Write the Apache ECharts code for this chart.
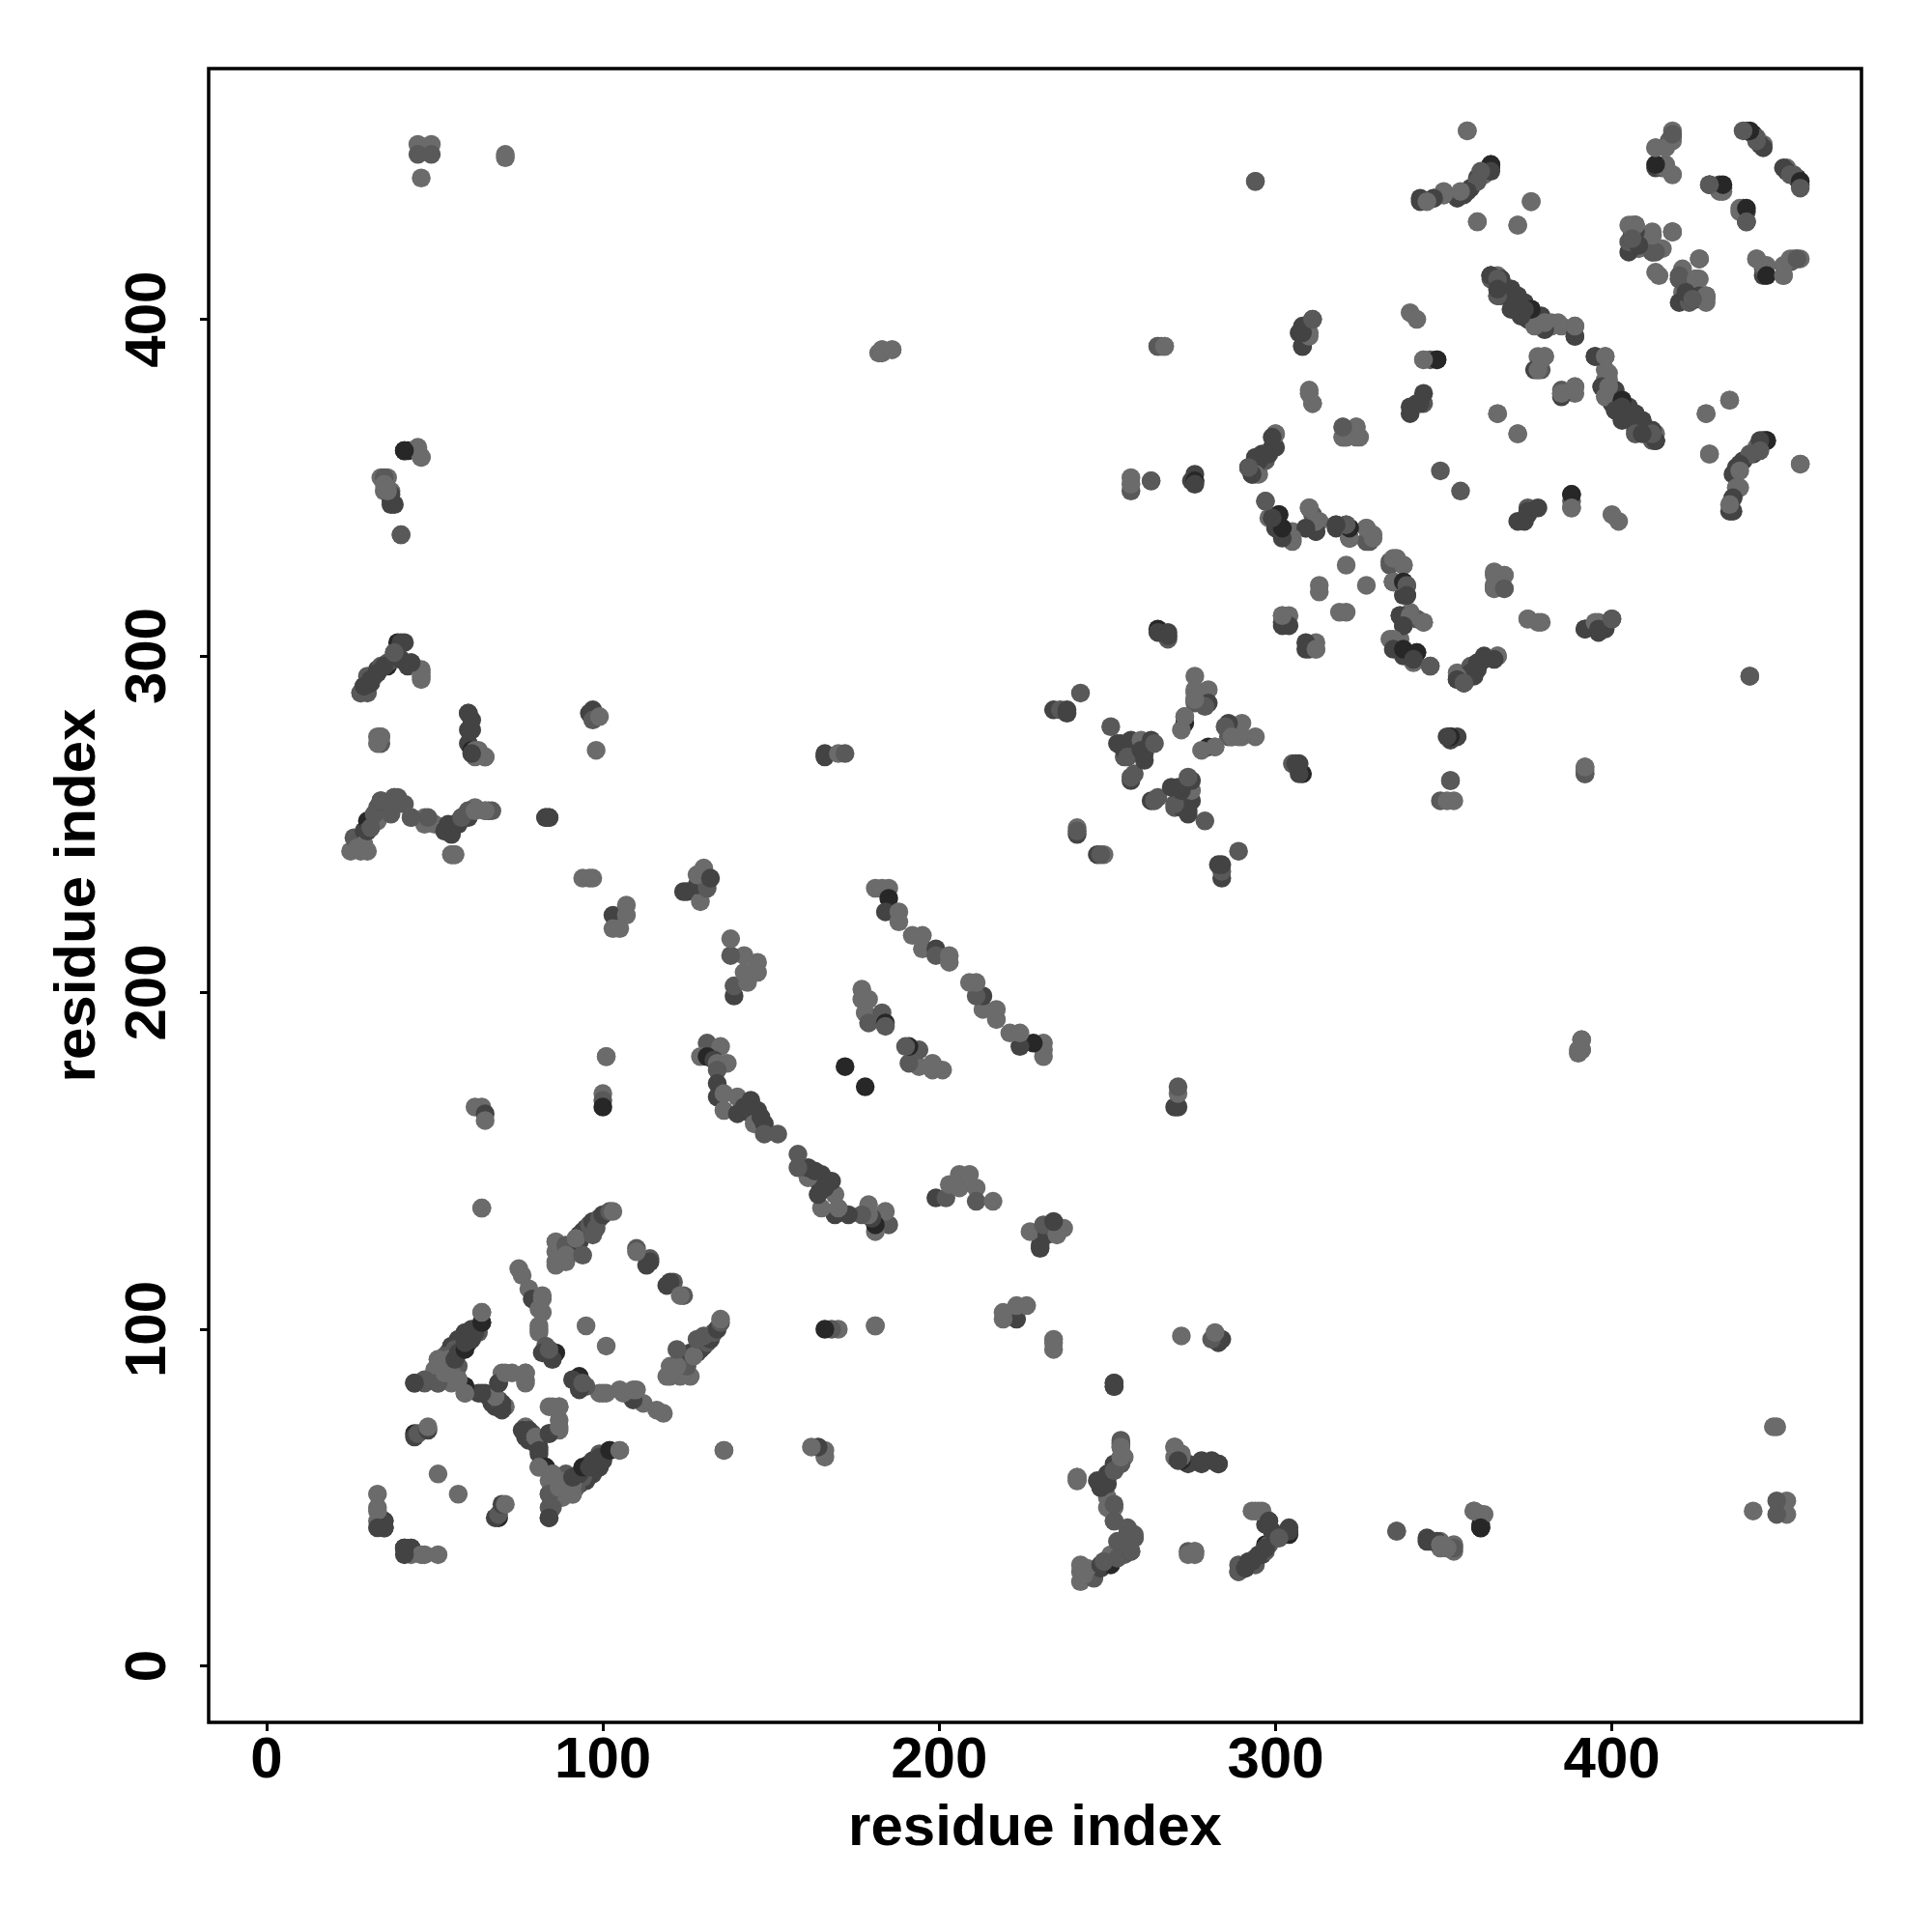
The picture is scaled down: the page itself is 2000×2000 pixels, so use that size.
<!DOCTYPE html>
<html>
<head>
<meta charset="utf-8">
<style>html,body{margin:0;padding:0;background:#fff}#c{width:2000px;height:2000px}</style>
<script src="https://cdn.jsdelivr.net/npm/echarts@6/dist/echarts.min.js"></script>
</head>
<body>
<div id="c"></div>
<script>
// Each contact: [residue i, residue j, weight]  (weight 1 = faint ... 4 = strongest)
// The map is symmetric, so every contact is also drawn as (j, i).
const tickValues = [0, 100, 200, 300, 400];
const axisTitle = 'residue index';

const helixTop = [[45,452,1],[49,452,1],[45,449,2],[49,449,2],[46,442,1],[71,449,1],[71,448,1]];
const group40s = [[41,361,4],[42,361,4],[45,361,1],[46,359,2],[37,345,3],[38,345,3],[35,349,1],[37,349,1],[34,353,1],[36,353,1],[40,336,1],[41,361,4],[45,361,1]];
const chain290 = [[28,289,2],[30,289,2],[29,291,4],[31,292,3],[30,294,2],[32,294,2],[33,296,3],[34,297,2],[36,297,4],[36,298,2],[38,301,2],[39,304,4],[40,304,3],[41,304,3],[40,299,3],[42,297,3],[43,298,3],[46,296,1],[46,294,1]];
const group276 = [[33,276,1],[34,276,1],[34,274,2]];
const group280 = [[60,283,3],[61,281,3],[60,278,3],[60,274,3],[61,272,4],[63,272,1],[62,270,1],[65,270,1]];
const group98 = [[96,283,3],[97,284,3],[97,281,2],[99,282,1],[98,272,1]];
const chain250 = [[25,242,1],[28,242,1],[30,242,1],[27,245,1],[26,246,2],[29,248,3],[31,249,3],[30,251,4],[33,251,1],[32,253,2],[33,255,2],[34,257,3],[37,257,3],[38,258,3],[39,258,2],[41,256,2],[43,252,1],[47,252,1],[47,250,1],[50,250,1],[53,248,3],[55,247,3],[54,249,3],[57,250,3],[58,252,2],[60,252,3],[60,254,2],[62,255,1],[65,254,1],[66,254,3],[67,254,2],[55,241,2],[56,241,2],[83,252,3],[84,252,3]];
const group100 = [[94,234,1],[96,234,1],[97,234,1],[103,223,3],[107,226,1],[107,223,1],[103,219,1],[105,219,1]];
const group130 = [[124,230,3],[125,230,3],[129,227,1],[128,232,3],[130,234,2],[131,231,2],[128,235,1],[130,237,1],[132,234,3]];
const group140 = [[139,199,3],[139,202,2],[143,203,1],[142,206,1],[146,206,1],[146,209,1],[142,211,1],[138,211,2],[138,216,1]];
const hairpin150 = [[131,185,2],[135,184,1],[129,181,1],[131,181,4],[133,180,3],[134,179,1],[137,179,1],[134,177,2],[134,173,3],[134,169,3],[136,170,1],[136,165,1],[140,169,1],[140,164,3],[142,166,3],[144,168,3],[144,164,3],[146,165,3],[145,161,1],[148,161,3],[147,163,3],[148,158,2],[152,158,2]];
const hairpinCross = [[101,181,1],[100,170,1],[100,168,2],[100,166,4],[62,166,1],[64,166,1],[65,164,3],[65,162,1],[64,136,1],[166,271,3],[166,270,3],[170,271,1],[172,271,2],[182,390,1],[183,390,1],[186,391,1],[183,391,1]];
const strand185 = [[181,231,1],[183,231,1],[185,231,1],[185,228,4],[184,224,3],[188,224,1],[188,221,1],[192,217,1],[195,217,1],[195,213,1],[199,213,3],[199,211,2],[203,211,1],[203,209,1]];
const strand177 = [[177,201,1],[177,198,1],[179,198,1],[178,194,1],[179,191,2],[183,194,2],[184,191,4],[184,190,2],[172,178,4]];
const blockAb = [[64,102,4],[64,105,1],[59,99,3],[61,100,3],[60,98,3],[63,99,2],[59,96,4],[57,97,3],[58,94,3],[60,96,3],[55,95,3],[54,93,3],[56,94,2],[53,92,2],[52,90,2],[51,91,1],[54,91,1],[56,91,1],[57,89,2],[50,88,1]];
const blockAc = [[44,84,3],[47,84,2],[51,84,3],[55,87,1],[53,86,1],[57,85,2],[59,81,1],[59,83,4],[63,81,3],[65,81,3],[66,80,3],[67,78,3],[68,77,3],[69,79,2],[71,77,1],[69,84,3],[70,87,1],[73,87,1],[77,87,1],[77,84,1]];
const blockBb = [[75,118,1],[76,116,1],[78,112,1],[79,109,3],[82,110,1],[81,106,1],[81,100,1],[82,105,1],[82,109,1],[81,99,1],[81,101,1],[83,95,2],[82,93,3],[86,93,4],[85,91,3],[84,94,2]];
const blockCa = [[86,126,1],[86,123,1],[86,120,1],[89,120,1],[89,125,2],[92,123,2],[93,126,3],[93,128,3],[94,129,3],[95,130,3],[96,131,2],[97,132,3],[98,130,2],[99,133,2],[100,134,3],[102,135,2],[103,135,1],[86,119,1],[89,122,1],[92,127,1],[94,122,2],[97,128,2]];
const blockD = [[110,124,2],[113,119,3],[114,121,2],[114,120,3],[110,123,1]];
const blockE = [[76,70,3],[78,70,3],[80,68,1],[81,64,3],[83,59,4],[81,59,1],[84,55,1],[84,51,2],[85,57,1],[85,47,2],[84,44,3],[87,53,1],[91,51,1],[91,56,3],[93,57,3],[94,59,4],[96,59,3],[97,61,3],[99,62,3],[102,64,4],[105,64,1],[84,69,3],[87,71,1],[85,77,1],[87,77,1]];
const group44 = [[44,69,4],[44,68,3],[45,69,2],[48,70,3],[48,71,1],[51,57,1],[95,101,1]];
const group33 = [[33,51,1],[33,47,1],[33,43,1],[35,43,3],[35,41,4],[35,41,3],[35,43,3],[33,46,1],[41,35,3],[33,41,3]];
const lowerRight = [[46,359,1],[45,362,1],[41,361,4],[40,336,2],[37,346,3],[37,348,3],[36,349,1],[35,353,2],[35,351,1]];
const group440 = [[294,441,1]];
const edge100 = [[83,252,3],[84,252,3],[64,136,1],[101,181,1]];
const chain243 = [[55,241,1],[56,241,1],[53,248,3],[54,250,3],[56,250,3],[58,252,2],[60,254,2],[62,254,1],[65,254,1],[48,252,2],[43,252,2],[39,256,2],[38,258,2],[37,253,2],[34,257,2],[29,244,1],[27,243,1],[30,248,3],[31,249,2]];
const group61 = [[61,278,3],[60,283,3],[65,270,1],[62,272,1],[61,271,3]];
const group33b = [[33,274,1],[34,276,1]];
const group46 = [[28,289,2],[29,291,3],[31,293,3],[33,295,3],[35,297,3],[38,301,2],[46,295,1],[46,293,1],[43,298,3]];
const group241 = [[234,284,3],[236,284,2],[238,284,3],[238,283,3],[242,289,2],[241,249,1],[241,247,3],[241,248,2]];
const group250 = [[251,279,2],[253,274,3],[255,270,2],[255,272,3],[257,275,3],[254,274,3],[256,270,2],[257,263,3],[258,265,2],[257,264,2],[260,275,1],[261,269,3],[260,272,3],[261,271,3],[263,275,3],[264,274,2]];
const group272 = [[273,282,1],[273,280,4],[272,278,1],[276,294,1],[276,290,1],[280,290,1],[276,287,1],[276,289,1],[280,286,3],[279,285,2],[286,276,2],[287,276,1],[282,273,1]];
const group265 = [[265,308,4],[268,305,2],[268,307,3],[265,307,3],[268,306,3],[265,392,1],[267,392,1],[257,349,2],[257,353,1],[263,352,2],[257,351,1],[276,352,4],[276,354,3],[275,352,3]];
const helix300 = [[296,360,3],[294,359,3],[292,356,3],[293,354,3],[295,354,1],[297,358,2],[298,360,3],[300,362,3],[300,366,1],[297,346,1],[298,341,1],[301,342,4],[301,339,3],[303,337,3],[300,338,3],[305,337,1],[305,334,1],[309,338,1],[310,344,1],[312,337,3],[311,342,2],[313,340,1],[318,338,3],[322,338,4],[322,335,3],[327,338,1],[329,336,1],[328,334,2]];
const strand310 = [[321,327,1],[313,321,1],[313,319,1],[327,334,2],[322,335,3],[321,339,3],[318,339,3],[312,340,2],[302,312,1],[304,312,1],[302,309,3],[304,309,3],[310,302,3],[312,302,1]];
const helix335 = [[335,329,1],[338,327,1],[335,322,1],[338,322,4],[339,321,2],[339,318,3],[337,312,3],[340,312,1],[344,310,1],[338,309,3],[335,305,1],[335,302,3],[338,302,4],[342,301,4],[341,299,3],[346,297,2]];
const helix355 = [[366,300,1],[365,299,3],[362,299,3],[360,297,3],[358,295,3],[356,292,3],[354,294,1],[354,293,3],[356,292,2],[352,276,4],[351,276,3],[352,263,2]];
const group320 = [[320,368,1],[324,368,1],[321,365,1],[325,365,1],[320,365,1],[320,365,1],[365,324,1],[368,324,1],[365,321,1],[368,320,2],[375,311,1],[379,310,1],[392,308,4],[396,310,1],[396,307,3],[400,311,3],[398,308,3]];
const group310 = [[308,392,3],[310,395,1],[308,396,3],[311,400,2],[310,378,1],[311,375,1],[340,372,3],[340,374,3],[342,375,3],[344,375,2],[344,378,3],[343,375,3],[344,388,1],[346,388,2],[348,388,4],[388,348,4],[388,344,1]];
const group345 = [[340,402,1],[342,400,1],[366,372,1],[349,355,2],[392,266,2],[392,265,2],[392,267,1],[391,183,1],[391,186,1],[372,366,1]];
const chain350 = [[343,435,3],[347,436,3],[350,437,1],[350,438,1],[354,436,3],[356,437,3],[358,439,3],[360,442,3],[362,444,2],[364,446,3],[364,445,4],[362,443,1],[357,456,1],[360,429,1],[372,428,1],[376,435,1],[294,441,2]];
const chain365 = [[364,413,4],[367,412,3],[366,407,2],[370,409,3],[371,407,3],[373,405,2],[372,403,3],[376,403,3],[375,400,3],[379,401,3],[380,399,2],[380,397,3],[385,398,1],[389,398,2],[389,395,4]];
const chain395 = [[378,385,2],[378,389,1],[380,389,1],[377,385,3],[379,385,2],[385,378,1],[388,379,1],[389,380,1],[364,413,3],[366,413,1],[367,407,3],[370,409,3],[374,405,3],[373,401,3],[376,403,3],[377,399,3],[380,398,1],[382,399,1]];
const chain400 = [[389,395,3],[389,398,1],[384,399,1],[382,398,1],[380,397,3],[377,398,1],[380,399,1],[376,403,4],[374,403,3],[373,401,3],[370,403,3],[372,407,3],[366,407,2],[367,412,3],[364,412,2],[364,413,3],[366,412,2],[366,409,3]];
const farCorner = [[413,451,1],[417,453,2],[418,455,2],[418,454,1],[413,445,3],[415,445,2],[416,445,1],[418,443,1],[429,440,2],[433,439,3],[433,438,1],[418,426,1],[406,427,3],[407,428,2],[406,425,3],[408,423,3],[412,425,1],[412,421,1],[415,421,1],[412,426,1]];
const farEdge = [[418,426,1],[408,421,1],[405,420,3],[412,420,2],[414,413,1],[412,420,2],[412,425,1],[408,423,3],[406,422,3],[406,424,2],[405,423,2],[407,424,3],[406,428,1],[407,428,1]];
const block450 = [[440,456,2],[442,455,4],[443,454,2],[445,452,1],[444,452,3],[445,451,3],[443,453,2],[441,456,4],[439,456,2],[432,440,3],[429,440,2],[438,432,1],[440,433,4],[440,429,2],[443,418,1],[446,416,1],[446,413,4],[451,413,1],[451,416,1],[453,418,1],[456,418,1],[455,418,2]];
const block420 = [[421,414,1],[420,413,2],[425,412,1],[422,408,3],[424,406,3],[426,407,3],[428,407,1],[428,405,1],[426,418,1],[424,406,2]];
const chain445 = [[446,364,4],[444,364,3],[444,361,2],[441,360,2],[438,357,3],[438,355,1],[437,350,1],[436,347,3],[436,343,3],[435,345,1],[429,360,1],[428,372,1],[435,376,1],[357,456,1]];

const contactGroups = [helixTop, group40s, chain290, group276, group280, group98, chain250, group100, group130, group140, hairpin150, hairpinCross, strand185, strand177, blockAb, blockAc, blockBb, blockCa, blockD, blockE, group44, group33, lowerRight, group440, edge100, chain243, group61, group33b, group46, group241, group250, group272, group265, helix300, strand310, helix335, helix355, group320, group310, group345, chain350, chain365, chain395, chain400, farCorner, farEdge, block450, block420, chain445];

const pointShade = {1:'#6b6b6b', 2:'#595959', 3:'#434343', 4:'#272727'};
const points = [];
contactGroups.forEach(function (g) {
  g.forEach(function (c) {
    points.push({value:[c[0], c[1]], itemStyle:{color:pointShade[c[2]], opacity:1}});
    points.push({value:[c[1], c[0]], itemStyle:{color:pointShade[c[2]], opacity:1}});
  });
});

const font = '"Liberation Sans", Arial, sans-serif';
function axis(extra) {
  return Object.assign({
    type:'value', name:axisTitle, nameLocation:'middle',
    nameTextStyle:{fontFamily:font, fontWeight:'bold', fontSize:60, color:'#000'},
    axisLine:{show:false, onZero:false}, splitLine:{show:false},
    axisTick:{show:true, length:9, inside:false, customValues:tickValues, lineStyle:{color:'#000', width:3}}
  }, extra);
}
const chart = echarts.init(document.getElementById('c'), null, {renderer:'canvas'});
chart.setOption({
  animation:false, backgroundColor:'#fff',
  grid:{left:216, top:71, width:1711, height:1712, show:true, borderColor:'#000', borderWidth:3.5, backgroundColor:'transparent', containLabel:false},
  xAxis:axis({min:-17.2, max:474.2, nameGap:80,
    axisLabel:{customValues:tickValues, fontFamily:font, fontWeight:'bold', fontSize:60, color:'#000', margin:10, hideOverlap:false}}),
  yAxis:axis({min:-16.8, max:474.5, nameGap:105, nameRotate:90,
    axisLabel:{customValues:tickValues, fontFamily:font, fontWeight:'bold', fontSize:60, color:'#000', margin:32, rotate:90, hideOverlap:false}}),
  series:[{type:'scatter', data:points, symbol:'circle', symbolSize:19.5, silent:true, large:false, progressive:0, clip:true, itemStyle:{opacity:1}}]
});
</script>
</body>
</html>
